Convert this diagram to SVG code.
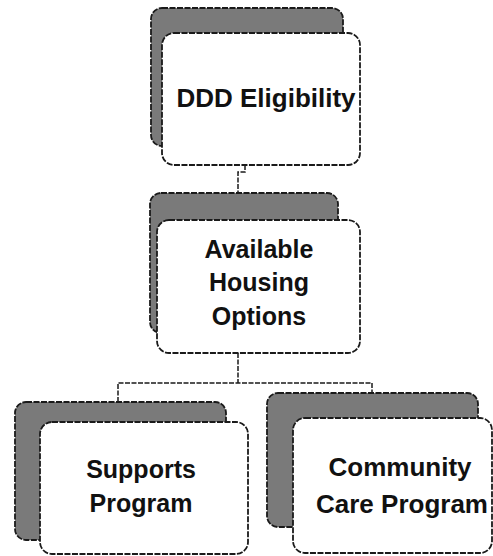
<svg xmlns="http://www.w3.org/2000/svg" width="493" height="556" viewBox="0 0 493 556">
<style>
.bg{fill:#fff}
.shadow{fill:#7a7a7a;stroke:#1a1a1a;stroke-width:1.8;stroke-dasharray:6 1.5}
.card{fill:#fff;stroke:#1a1a1a;stroke-width:1.8;stroke-dasharray:6 1.5}
.conn{fill:none;stroke:#1a1a1a;stroke-width:1.5;stroke-dasharray:5 1.5}
.t{font-family:"Liberation Sans",Arial,sans-serif;font-weight:bold;fill:#111;text-anchor:middle}
</style>
<rect class="bg" x="0" y="0" width="493" height="556"/>
<g id="connectors">
<path class="conn" d="M245 165 V172 H238 V195"/>
<path class="conn" d="M238 353 V383"/>
<path class="conn" d="M118 402 V383 H372 V395"/>
</g>
<g id="node-ddd">
<rect class="shadow" x="151" y="8" width="192" height="138" rx="11"/>
<rect class="card" x="162" y="33" width="198" height="132" rx="12"/>
<text class="t" x="266" y="107" font-size="26">DDD Eligibility</text>
</g>
<g id="node-housing">
<rect class="shadow" x="150" y="193" width="188" height="140" rx="11"/>
<rect class="card" x="157" y="220" width="203" height="133" rx="12"/>
<text class="t" x="259" y="258" font-size="25">Available</text>
<text class="t" x="259" y="291" font-size="25">Housing</text>
<text class="t" x="259" y="325" font-size="25">Options</text>
</g>
<g id="node-supports">
<rect class="shadow" x="15" y="402" width="211" height="138" rx="11"/>
<rect class="card" x="40" y="422" width="208" height="132" rx="12"/>
<text class="t" x="141" y="478" font-size="25">Supports</text>
<text class="t" x="141" y="512" font-size="25">Program</text>
</g>
<g id="node-community">
<rect class="shadow" x="267" y="393" width="211" height="134" rx="11"/>
<rect class="card" x="293" y="418" width="199" height="135" rx="12"/>
<text class="t" x="400" y="476" font-size="26">Community</text>
<text class="t" x="402" y="513" font-size="26">Care Program</text>
</g>
</svg>
